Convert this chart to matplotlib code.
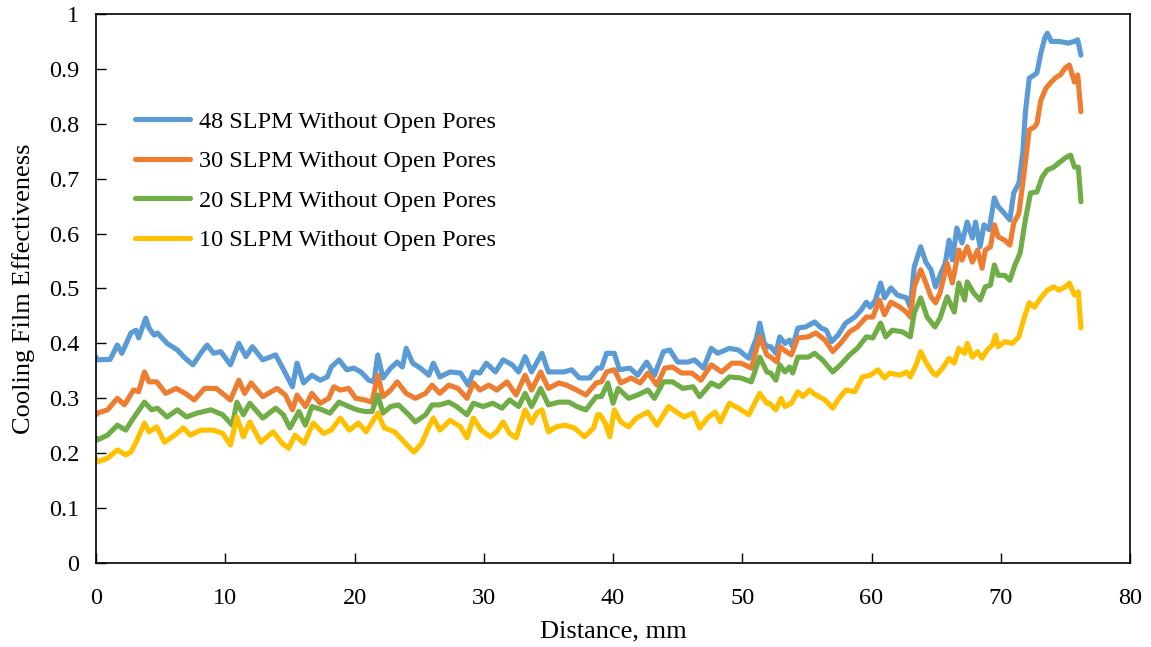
import matplotlib
matplotlib.use("Agg")
import matplotlib.pyplot as plt
from matplotlib.ticker import MultipleLocator, FuncFormatter

x48 = [0.0, 0.1, 1.1, 1.65, 2.0, 2.7, 3.1, 3.3, 3.85, 4.1, 4.5, 4.75, 5.5, 6.3, 6.9, 7.5, 8.1, 8.6, 9.1, 9.65,
       10.4, 11.05, 11.6, 12.1, 12.9, 13.9, 14.4, 15.2, 15.55, 16.06, 16.7, 17.35, 17.9, 18.2, 18.8, 19.4,
       19.95, 20.5, 21.1, 21.5, 21.8, 22.2, 22.8, 23.3, 23.7, 24.0, 24.5, 25.1, 25.75, 26.1, 26.6, 27.4, 28.2,
       28.8, 29.2, 29.7, 30.2, 30.9, 31.5, 32.2, 32.7, 33.2, 33.7, 34.5, 35.0, 35.6, 36.2, 36.8, 37.4, 38.2,
       38.8, 39.1, 39.5, 40.1, 40.5, 41.3, 41.9, 42.6, 43.2, 43.9, 44.4, 45.0, 45.8, 46.3, 47.0, 47.6, 48.1,
       49.0, 49.7, 50.5, 51.1, 51.35, 51.7, 52.0, 52.2, 52.6, 52.9, 53.3, 53.65, 53.9, 54.3, 54.9, 55.6, 56.1,
       56.5, 56.9, 57.4, 58.0, 58.7, 59.2, 59.6, 59.9, 60.3, 60.7, 61.0, 61.5, 62.0, 62.7, 63.0, 63.3, 63.8,
       64.2, 64.6, 64.95, 65.3, 65.7, 66.0, 66.25, 66.6, 67.0, 67.4, 67.8, 68.05, 68.4, 68.7, 69.1, 69.5,
       69.8, 70.2, 70.7, 71.0, 71.4, 71.7, 71.9, 72.2, 72.6, 72.8, 73.1, 73.4, 73.6, 73.9, 74.5, 75.2, 75.7,
       75.95, 76.2]
y48 = [0.375, 0.37, 0.371, 0.397, 0.382, 0.419, 0.424, 0.41, 0.446, 0.428, 0.415, 0.419, 0.40, 0.388, 0.373,
       0.361, 0.382, 0.397, 0.382, 0.385, 0.361, 0.40, 0.376, 0.394, 0.37, 0.379, 0.357, 0.321, 0.364, 0.328,
       0.342, 0.333, 0.339, 0.357, 0.37, 0.352, 0.355, 0.348, 0.333, 0.33, 0.379, 0.337, 0.355, 0.366, 0.357,
       0.391, 0.364, 0.355, 0.342, 0.364, 0.339, 0.348, 0.346, 0.324, 0.348, 0.346, 0.364, 0.348, 0.37, 0.361,
       0.348, 0.376, 0.348, 0.382, 0.348, 0.348, 0.348, 0.352, 0.337, 0.337, 0.355, 0.355, 0.382, 0.382,
       0.352, 0.355, 0.342, 0.366, 0.342, 0.385, 0.388, 0.366, 0.366, 0.37, 0.355, 0.391, 0.382, 0.391, 0.388,
       0.373, 0.41, 0.437, 0.40, 0.394, 0.394, 0.382, 0.412, 0.40, 0.406, 0.394, 0.428, 0.43, 0.439, 0.428,
       0.424, 0.403, 0.415, 0.437, 0.448, 0.461, 0.475, 0.466, 0.479, 0.51, 0.483, 0.501, 0.488, 0.483, 0.466,
       0.539, 0.576, 0.548, 0.534, 0.503, 0.524, 0.546, 0.588, 0.552, 0.61, 0.583, 0.621, 0.592, 0.621, 0.576,
       0.616, 0.607, 0.665, 0.649, 0.639, 0.625, 0.674, 0.692, 0.747, 0.82, 0.883, 0.889, 0.893, 0.929, 0.956,
       0.965, 0.95, 0.95, 0.947, 0.95, 0.953, 0.925]

x30 = [0.0, 0.1, 0.9, 1.65, 2.2, 2.9, 3.3, 3.75, 4.1, 4.7, 5.4, 6.2, 6.9, 7.6, 8.4, 9.3, 10.4, 11.05, 11.5, 12.0,
       12.9, 14.0, 14.65, 15.2, 15.55, 16.2, 16.7, 17.35, 18.0, 18.4, 18.9, 19.55, 20.1, 20.8, 21.35, 21.8,
       22.2, 22.8, 23.3, 24.0, 24.7, 25.5, 26.0, 26.6, 27.3, 28.0, 28.7, 29.2, 29.7, 30.4, 31.0, 31.8, 32.5,
       33.2, 33.7, 34.4, 35.0, 35.8, 36.4, 37.2, 37.9, 38.7, 39.1, 39.5, 40.1, 40.6, 41.4, 42.1, 42.7, 43.4,
       44.0, 44.6, 45.3, 46.1, 46.8, 47.6, 48.4, 49.2, 49.9, 50.7, 51.35, 51.9, 52.2, 52.7, 52.9, 53.4, 53.8,
       54.3, 55.1, 55.7, 56.4, 57.0, 57.6, 58.3, 58.9, 59.6, 60.1, 60.6, 61.0, 61.5, 62.2, 62.7, 63.0, 63.3,
       63.8, 64.2, 64.6, 64.95, 65.3, 65.85, 66.25, 66.75, 67.0, 67.4, 67.8, 68.2, 68.55, 68.8, 69.2, 69.5,
       69.8, 70.3, 70.7, 71.0, 71.4, 71.8, 72.2, 72.6, 72.8, 73.1, 73.5, 73.9, 74.3, 74.6, 75.0, 75.3, 75.7,
       75.95, 76.2]
y30 = [0.27, 0.273, 0.279, 0.30, 0.288, 0.315, 0.312, 0.348, 0.33, 0.33, 0.309, 0.318, 0.309, 0.297, 0.318,
       0.318, 0.297, 0.333, 0.309, 0.328, 0.303, 0.318, 0.306, 0.279, 0.306, 0.285, 0.309, 0.291, 0.30, 0.321,
       0.315, 0.318, 0.30, 0.297, 0.293, 0.342, 0.303, 0.315, 0.33, 0.309, 0.30, 0.309, 0.324, 0.309, 0.324,
       0.318, 0.30, 0.328, 0.315, 0.324, 0.315, 0.33, 0.306, 0.342, 0.315, 0.348, 0.318, 0.328, 0.324, 0.315,
       0.306, 0.328, 0.33, 0.348, 0.352, 0.328, 0.337, 0.328, 0.346, 0.324, 0.355, 0.357, 0.346, 0.346, 0.333,
       0.361, 0.348, 0.364, 0.364, 0.355, 0.412, 0.379, 0.375, 0.366, 0.394, 0.385, 0.379, 0.41, 0.412, 0.419,
       0.406, 0.385, 0.40, 0.421, 0.43, 0.448, 0.448, 0.479, 0.452, 0.475, 0.466, 0.457, 0.448, 0.503, 0.534,
       0.51, 0.485, 0.474, 0.492, 0.546, 0.51, 0.57, 0.552, 0.576, 0.548, 0.57, 0.537, 0.57, 0.576, 0.616,
       0.594, 0.588, 0.579, 0.619, 0.637, 0.71, 0.789, 0.794, 0.801, 0.843, 0.865, 0.876, 0.885, 0.889, 0.902,
       0.907, 0.876, 0.889, 0.822]

x20 = [0.0, 0.1, 0.9, 1.65, 2.3, 2.9, 3.75, 4.3, 4.75, 5.5, 6.3, 7.0, 7.8, 8.9, 9.8, 10.55, 10.9, 11.4, 11.9,
       12.9, 13.9, 14.5, 15.0, 15.7, 16.2, 16.7, 17.5, 18.1, 18.8, 19.55, 20.2, 20.8, 21.35, 21.8, 22.2, 22.8,
       23.4, 24.2, 24.7, 25.5, 26.0, 26.6, 27.3, 27.9, 28.7, 29.2, 29.95, 30.7, 31.4, 32.0, 32.7, 33.2, 33.7,
       34.4, 35.0, 35.8, 36.6, 37.2, 37.9, 38.7, 39.1, 39.6, 40.0, 40.4, 41.2, 41.9, 42.7, 43.2, 43.9, 44.6,
       45.4, 46.2, 46.7, 47.6, 48.2, 49.0, 49.9, 50.7, 51.35, 51.9, 52.2, 52.6, 52.9, 53.3, 53.65, 53.9, 54.3,
       55.1, 55.6, 56.2, 57.0, 57.6, 58.3, 58.9, 59.6, 60.1, 60.7, 61.1, 61.6, 62.4, 63.0, 63.3, 63.8, 64.3,
       64.9, 65.3, 65.85, 66.4, 66.75, 67.2, 67.4, 67.9, 68.4, 68.8, 69.2, 69.5, 69.8, 70.3, 70.7, 71.1, 71.5,
       71.9, 72.3, 72.8, 73.2, 73.6, 74.1, 74.5, 75.0, 75.4, 75.7, 76.0, 76.2]
y20 = [0.228, 0.224, 0.233, 0.251, 0.242, 0.264, 0.293, 0.279, 0.282, 0.266, 0.279, 0.266, 0.273, 0.279, 0.27,
       0.251, 0.293, 0.27, 0.291, 0.264, 0.282, 0.27, 0.246, 0.276, 0.251, 0.285, 0.279, 0.273, 0.293, 0.285,
       0.279, 0.276, 0.276, 0.306, 0.273, 0.285, 0.288, 0.27, 0.257, 0.27, 0.288, 0.288, 0.293, 0.285, 0.27,
       0.291, 0.285, 0.291, 0.282, 0.297, 0.285, 0.309, 0.285, 0.318, 0.288, 0.293, 0.293, 0.285, 0.279, 0.303,
       0.303, 0.328, 0.291, 0.318, 0.30, 0.306, 0.315, 0.30, 0.33, 0.33, 0.318, 0.321, 0.303, 0.328, 0.321,
       0.339, 0.337, 0.33, 0.375, 0.348, 0.346, 0.333, 0.361, 0.348, 0.357, 0.346, 0.375, 0.375, 0.382, 0.37,
       0.348, 0.361, 0.379, 0.391, 0.412, 0.41, 0.437, 0.412, 0.424, 0.421, 0.412, 0.455, 0.483, 0.448, 0.43,
       0.446, 0.485, 0.457, 0.51, 0.479, 0.512, 0.492, 0.479, 0.503, 0.506, 0.543, 0.524, 0.524, 0.515, 0.543,
       0.565, 0.625, 0.674, 0.676, 0.703, 0.716, 0.721, 0.729, 0.738, 0.743, 0.721, 0.721, 0.658]

x10 = [0.0, 0.1, 0.9, 1.65, 2.3, 2.7, 3.1, 3.75, 4.1, 4.7, 5.3, 6.1, 6.75, 7.3, 8.1, 9.1, 9.8, 10.4, 10.9, 11.4,
       11.9, 12.75, 13.7, 14.4, 14.9, 15.4, 16.1, 16.8, 17.6, 18.2, 18.9, 19.6, 20.3, 20.9, 21.8, 22.3, 23.1,
       23.7, 24.6, 25.2, 25.75, 26.1, 26.6, 27.4, 28.2, 28.7, 29.2, 29.8, 30.5, 31.0, 31.5, 32.0, 32.5, 33.2,
       33.7, 34.1, 34.5, 35.0, 35.6, 36.3, 37.0, 37.8, 38.5, 38.8, 39.0, 39.4, 39.75, 40.1, 40.6, 41.2, 41.8,
       42.7, 43.4, 44.3, 44.9, 45.5, 46.2, 46.7, 47.3, 47.9, 48.3, 49.0, 49.7, 50.5, 51.35, 51.9, 52.1, 52.6,
       53.0, 53.3, 53.8, 54.3, 54.7, 55.2, 55.7, 56.4, 57.0, 57.4, 58.0, 58.7, 59.3, 59.9, 60.5, 61.0, 61.4,
       62.2, 62.7, 63.0, 63.5, 63.8, 64.2, 64.75, 65.0, 65.5, 66.0, 66.4, 66.75, 67.2, 67.4, 67.8, 68.2, 68.55,
       68.95, 69.35, 69.6, 69.8, 70.3, 70.9, 71.4, 71.8, 72.2, 72.6, 73.1, 73.6, 74.1, 74.5, 75.0, 75.3, 75.7,
       76.0, 76.2]
y10 = [0.19, 0.184, 0.191, 0.206, 0.197, 0.202, 0.22, 0.255, 0.239, 0.248, 0.22, 0.233, 0.246, 0.233, 0.242,
       0.242, 0.236, 0.215, 0.266, 0.23, 0.257, 0.22, 0.239, 0.218, 0.209, 0.233, 0.218, 0.255, 0.236, 0.242,
       0.264, 0.242, 0.255, 0.239, 0.273, 0.246, 0.239, 0.224, 0.202, 0.218, 0.248, 0.264, 0.242, 0.26, 0.248,
       0.228, 0.264, 0.242, 0.23, 0.239, 0.257, 0.236, 0.228, 0.279, 0.255, 0.273, 0.279, 0.239, 0.248, 0.251,
       0.246, 0.23, 0.246, 0.27, 0.27, 0.255, 0.23, 0.279, 0.257, 0.248, 0.264, 0.275, 0.251, 0.285, 0.275,
       0.266, 0.273, 0.246, 0.264, 0.275, 0.257, 0.291, 0.282, 0.27, 0.309, 0.291, 0.291, 0.279, 0.30, 0.285,
       0.291, 0.312, 0.303, 0.315, 0.306, 0.297, 0.282, 0.297, 0.315, 0.312, 0.339, 0.342, 0.352, 0.337, 0.346,
       0.342, 0.348, 0.339, 0.364, 0.385, 0.366, 0.346, 0.342, 0.355, 0.373, 0.364, 0.391, 0.382, 0.40, 0.375,
       0.385, 0.373, 0.388, 0.397, 0.415, 0.394, 0.403, 0.40, 0.412, 0.446, 0.474, 0.466, 0.483, 0.497, 0.503,
       0.497, 0.503, 0.51, 0.488, 0.494, 0.428]

series = [
    (x48, y48, "48 SLPM Without Open Pores", "#5B9BD5"),
    (x30, y30, "30 SLPM Without Open Pores", "#ED7D31"),
    (x20, y20, "20 SLPM Without Open Pores", "#70AD47"),
    (x10, y10, "10 SLPM Without Open Pores", "#FFC000"),
]

plt.rcParams["font.family"] = ["Liberation Serif", "DejaVu Serif"]

fig = plt.figure(figsize=(11.51, 6.47), dpi=100)
ax = fig.add_axes([0.0834, 0.1298, 0.8984, 0.8486])

for xs, ys, name, col in series:
    ax.plot(xs, ys, color=col, lw=3.7, label=name, solid_joinstyle="round", solid_capstyle="round")

ax.set_xlim(0, 80)
ax.set_ylim(0, 1)
ax.xaxis.set_major_locator(MultipleLocator(10))
ax.yaxis.set_major_locator(MultipleLocator(0.1))
ax.yaxis.set_major_formatter(FuncFormatter(lambda v, p: "%g" % round(v, 2)))
ax.tick_params(axis="both", direction="in", length=7, width=1, labelsize=17.5)
ax.tick_params(axis="x", pad=18)
ax.tick_params(axis="y", pad=12)
for s in ax.spines.values():
    s.set_linewidth(1.2)

ax.set_xlabel("Distance, mm", fontsize=19, labelpad=8)
ax.set_ylabel("Cooling Film Effectiveness", fontsize=19, labelpad=10)

ax.legend(loc="upper left", bbox_to_anchor=(0.0164, 0.864), frameon=False, fontsize=17.5,
          handlelength=2.26, labelspacing=0.72, handletextpad=0.4)

fig.savefig("out.png", dpi=100)
